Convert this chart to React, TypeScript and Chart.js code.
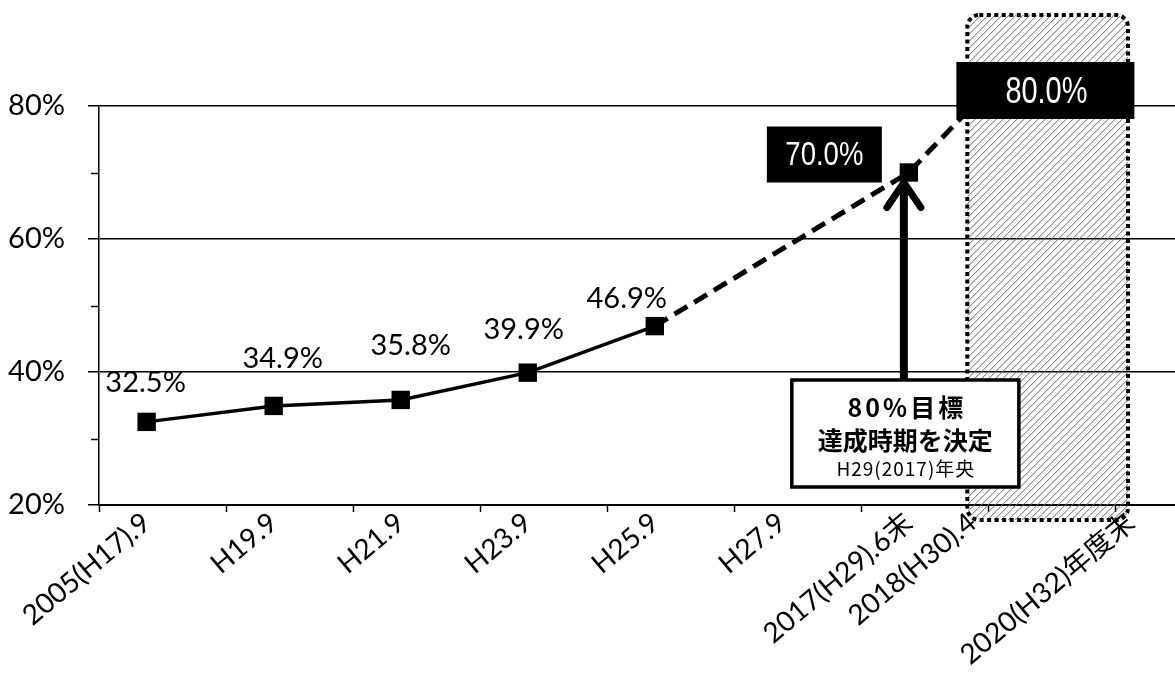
import React, { useEffect, useRef } from 'react';
import { Chart, registerables } from 'chart.js';

Chart.register(...registerables);

// ---- data ----
const categories = [
  '2005(H17).9',
  'H19.9',
  'H21.9',
  'H23.9',
  'H25.9',
  'H27.9',
  '2017(H29).6末',
  '2018(H30).4',
  '2020(H32)年度末',
];
// positions of the category labels on the (fractional-year) date axis
const categoryPositions = [2005.75, 2007.75, 2009.75, 2011.75, 2013.75, 2015.75, 2017.75, 2018.75, 2021.25];

const actualPositions = [2005.75, 2007.75, 2009.75, 2011.75, 2013.75];
const actualValues = [32.5, 34.9, 35.8, 39.9, 46.9];

const plannedPositions = [2013.75, 2017.75, 2018.75];
const plannedValues = [46.9, 70.0, 80.0];

const yTickValues = [20, 40, 60, 80];
const yMinorTickValues = [30, 50, 70];
const xTickMarkValues = [2005, 2007, 2009, 2011, 2013, 2015, 2017, 2019, 2021];

const milestoneLabel = '70.0%';
const targetLabel = '80.0%';
const goalText = ['80%目標', '達成時期を決定', 'H29(2017)年央'];

// ---- style ----
const LATIN = 'Lato, "Liberation Sans", "Noto Sans CJK JP", sans-serif';
const NARROW = '"Liberation Sans Narrow", "Liberation Sans", sans-serif';
const CJK = '"Noto Sans CJK JP", "Noto Sans", sans-serif';
const LABEL_OFFSETS = [
  [-1, -39],
  [9, -47],
  [10, -54],
  [-4, -43],
  [-28, -27],
];
const HATCH_RANGE = [2018.67, 2021.2];

function fitText(ctx: CanvasRenderingContext2D, text: string, cx: number, cy: number, targetW: number) {
  const w = ctx.measureText(text).width;
  const sx = w > targetW ? targetW / w : 1;
  ctx.save();
  ctx.translate(cx, cy);
  ctx.scale(sx, 1);
  ctx.textAlign = 'center';
  ctx.textBaseline = 'middle';
  ctx.fillText(text, 0, 0);
  ctx.restore();
}

function roundRectPath(ctx: CanvasRenderingContext2D, x: number, y: number, w: number, h: number, r: number) {
  ctx.beginPath();
  ctx.moveTo(x + r, y);
  ctx.lineTo(x + w - r, y);
  ctx.arcTo(x + w, y, x + w, y + r, r);
  ctx.lineTo(x + w, y + h - r);
  ctx.arcTo(x + w, y + h, x + w - r, y + h, r);
  ctx.lineTo(x + r, y + h);
  ctx.arcTo(x, y + h, x, y + h - r, r);
  ctx.lineTo(x, y + r);
  ctx.arcTo(x, y, x + r, y, r);
  ctx.closePath();
}

const annotationPlugin = {
  id: 'annotations',
  beforeDatasetsDraw(chart: any) {
    const { ctx, chartArea, scales } = chart;
    const xs = scales.x;
    const ys = scales.y;
    ctx.save();
    // x tick marks
    ctx.strokeStyle = '#000';
    ctx.lineWidth = 1.5;
    xTickMarkValues.forEach((v) => {
      const px = Math.round(xs.getPixelForValue(v)) + 0.5;
      ctx.beginPath();
      ctx.moveTo(px, chartArea.bottom);
      ctx.lineTo(px, chartArea.bottom + 7);
      ctx.stroke();
    });
    // y minor tick marks
    yMinorTickValues.forEach((v) => {
      const py = Math.round(ys.getPixelForValue(v)) + 0.5;
      ctx.beginPath();
      ctx.moveTo(chartArea.left - 8, py);
      ctx.lineTo(chartArea.left, py);
      ctx.stroke();
    });

    // hatched target window
    const l = xs.getPixelForValue(HATCH_RANGE[0]);
    const r = xs.getPixelForValue(HATCH_RANGE[1]);
    const t = 15;
    const b = chartArea.bottom + 15;
    ctx.save();
    roundRectPath(ctx, l, t, r - l, b - t, 12);
    ctx.clip();
    ctx.strokeStyle = '#666';
    ctx.lineWidth = 1;
    const h = b - t;
    for (let x = l - h; x < r + 10; x += 7) {
      ctx.beginPath();
      ctx.moveTo(x, b);
      ctx.lineTo(x + h, t);
      ctx.stroke();
    }
    ctx.restore();
    ctx.strokeStyle = '#000';
    ctx.lineWidth = 4;
    ctx.setLineDash([4, 3.5]);
    roundRectPath(ctx, l, t, r - l, b - t, 12);
    ctx.stroke();
    ctx.setLineDash([]);
    ctx.restore();
  },
  afterDatasetsDraw(chart: any) {
    const { ctx, scales } = chart;
    const ys = scales.y;
    ctx.save();
    // data labels
    const meta0 = chart.getDatasetMeta(0);
    ctx.fillStyle = '#000';
    ctx.font = `29px ${LATIN}`;
    ctx.textAlign = 'center';
    ctx.textBaseline = 'middle';
    meta0.data.forEach((pt: any, i: number) => {
      const [dx, dy] = LABEL_OFFSETS[i];
      ctx.fillText(actualValues[i].toFixed(1) + '%', pt.x + dx, pt.y + dy);
    });

    const meta1 = chart.getDatasetMeta(1);
    const mid = meta1.data[1];
    const tgt = meta1.data[2];

    // 70.0% box
    ctx.fillStyle = '#000';
    ctx.fillRect(mid.x - 142, mid.y - 46, 115, 56);
    ctx.fillStyle = '#fff';
    ctx.font = `34px ${NARROW}`;
    fitText(ctx, milestoneLabel, mid.x - 84.5, mid.y - 17, 78);

    // 80.0% box
    ctx.fillStyle = '#000';
    ctx.fillRect(tgt.x - 16, tgt.y - 44, 178, 57);
    ctx.fillStyle = '#fff';
    ctx.font = `36px ${NARROW}`;
    fitText(ctx, targetLabel, tgt.x + 74, tgt.y - 13, 82);

    // goal box
    const bx0 = mid.x - 117;
    const bx1 = mid.x + 110;
    const by0 = ys.getPixelForValue(40) + 8;
    const by1 = ys.getPixelForValue(20) - 18;

    // arrow
    const ax = mid.x - 5;
    const tipY = mid.y + 8;
    ctx.strokeStyle = '#000';
    ctx.lineWidth = 8;
    ctx.beginPath();
    ctx.moveTo(ax, by0);
    ctx.lineTo(ax, tipY + 4);
    ctx.stroke();
    ctx.lineWidth = 7;
    ctx.lineCap = 'round';
    ctx.lineJoin = 'miter';
    ctx.beginPath();
    ctx.moveTo(ax - 17, tipY + 27);
    ctx.lineTo(ax, tipY + 2);
    ctx.lineTo(ax + 17, tipY + 27);
    ctx.stroke();
    ctx.lineCap = 'butt';

    ctx.fillStyle = '#fff';
    ctx.fillRect(bx0, by0, bx1 - bx0, by1 - by0);
    ctx.lineWidth = 3.5;
    ctx.strokeRect(bx0, by0, bx1 - bx0, by1 - by0);
    const cx = (bx0 + bx1) / 2;
    ctx.fillStyle = '#000';
    ctx.textAlign = 'center';
    ctx.textBaseline = 'middle';
    (ctx as any).letterSpacing = '3px';
    ctx.font = `bold 25px ${CJK}`;
    ctx.fillText(goalText[0], cx + 1.5, by0 + 27);
    (ctx as any).letterSpacing = '0px';
    ctx.font = `bold 25px ${CJK}`;
    ctx.fillText(goalText[1], cx, by0 + 60);
    (ctx as any).letterSpacing = '1px';
    ctx.font = `19px ${CJK}`;
    ctx.fillText(goalText[2], cx + 0.5, by0 + 89);
    (ctx as any).letterSpacing = '0px';
    ctx.restore();
  },
};

export default function App() {
  const canvasRef = useRef<HTMLCanvasElement | null>(null);

  useEffect(() => {
    if (!canvasRef.current) return;
    const chart = new Chart(canvasRef.current, {
      type: 'line',
      data: {
        datasets: [
          {
            label: 'actual',
            data: actualPositions.map((x, i) => ({ x, y: actualValues[i] })),
            borderColor: '#000',
            backgroundColor: '#000',
            borderWidth: 3.5,
            pointStyle: 'rect',
            pointRadius: 13,
            pointBackgroundColor: '#000',
            pointBorderColor: '#000',
            pointBorderWidth: 0,
            tension: 0,
            order: 0,
          },
          {
            label: 'planned',
            data: plannedPositions.map((x, i) => ({ x, y: plannedValues[i] })),
            borderColor: '#000',
            backgroundColor: '#000',
            borderWidth: 5,
            borderDash: [15, 8],
            pointStyle: 'rect',
            pointRadius: [0, 13, 0],
            pointBackgroundColor: '#000',
            pointBorderWidth: 0,
            tension: 0,
            order: 1,
          },
        ],
      },
      options: {
        responsive: false,
        animation: false,
        devicePixelRatio: 1,
        layout: { autoPadding: false, padding: { top: 106, left: 0, right: 0, bottom: 0 } },
        plugins: { legend: { display: false }, tooltip: { enabled: false } },
        scales: {
          x: {
            type: 'linear',
            min: 2005,
            max: 2021.94,
            afterBuildTicks: (s: any) => {
              s.ticks = categoryPositions.map((v) => ({ value: v }));
            },
            afterFit: (s: any) => {
              s.height = 168;
              s.paddingLeft = 0;
              s.paddingRight = 0;
            },
            ticks: {
              autoSkip: false,
              minRotation: 40,
              maxRotation: 40,
              padding: -7,
              color: '#000',
              font: { family: LATIN, size: 28 },
              callback: (_v: any, i: number) => categories[i],
            },
            grid: { display: false },
            border: { display: true, color: '#000', width: 2 },
          },
          y: {
            min: 20,
            max: 80,
            afterBuildTicks: (s: any) => {
              s.ticks = yTickValues.map((v) => ({ value: v }));
            },
            afterFit: (s: any) => {
              s.width = 99;
            },
            ticks: {
              padding: 23,
              color: '#000',
              font: { family: LATIN, size: 29 },
              callback: (v: any) => v + '%',
            },
            grid: { color: '#000', lineWidth: 1.5, tickLength: 11, tickColor: '#000', tickWidth: 1.5 },
            border: { display: true, color: '#000', width: 1.5 },
          },
        },
      },
      plugins: [annotationPlugin],
    } as any);
    return () => chart.destroy();
  }, []);

  return (
    <div style={{ position: 'absolute', left: 0, top: 0, width: 1175, height: 673, background: '#fff' }}>
      <canvas ref={canvasRef} width={1175} height={673} style={{ display: 'block' }} />
    </div>
  );
}
